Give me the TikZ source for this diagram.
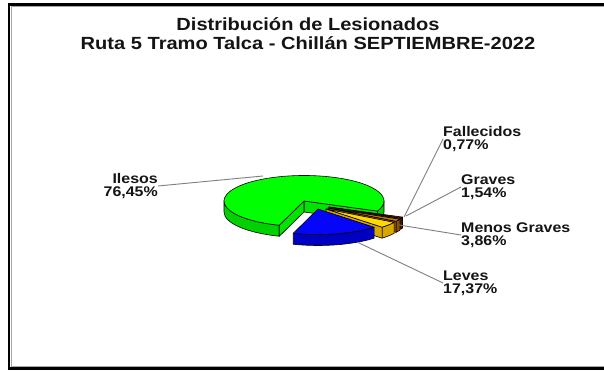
\documentclass[tikz,border=0pt]{standalone}
\usepackage{fontspec}
\newfontfamily\lfont{Liberation Sans}[FakeStretch=1.14]
\usetikzlibrary{calc}
\definecolor{gtop}{HTML}{00FF00}
\definecolor{gside}{HTML}{00D200}
\definecolor{gwall}{HTML}{00E400}
\definecolor{btop}{HTML}{0505F8}
\definecolor{bside}{HTML}{0000C4}
\definecolor{ytop}{HTML}{FFD800}
\definecolor{yside}{HTML}{D8A800}
\definecolor{otop}{HTML}{C07800}
\definecolor{oside}{HTML}{8C5200}
\definecolor{rtop}{HTML}{7A2E00}
\definecolor{rside}{HTML}{5A2000}
\definecolor{leadc}{HTML}{7F7F7F}
\newcommand{\slicetop}[4]{%
  \path[outl, fill=#4] (#1) -- ++(#2:80 and 25.5) arc[start angle=#2, end angle=#3, x radius=80, y radius=25.5] -- cycle;}
\newcommand{\slicerim}[4]{%
  \path[outl, fill=#4] (#1) ++(#2:80 and 25.5) arc[start angle=#2, end angle=#3, x radius=80, y radius=25.5] -- ++(0,-11) arc[start angle=#3, end angle=#2, x radius=80, y radius=25.5] -- cycle;}
\newcommand{\slicewall}[3]{%
  \path[outl, fill=#3] (#1) ++(0,-11) -- (#1) -- ++(#2:80 and 25.5) -- ++(0,-11) -- cycle;}
\begin{document}
\begin{tikzpicture}[x=1pt,y=1pt,
  lbl/.style={font=\lfont\bfseries\fontsize{14}{13}\selectfont, inner sep=0pt, text=black!92},
  ttl/.style={font=\lfont\bfseries\fontsize{17.6}{19}\selectfont, inner sep=0pt, text=black!92},
  leader/.style={draw=leadc, line width=0.9pt},
  outl/.style={draw=black, line width=0.6pt, line join=round}]
\useasboundingbox (0,0) rectangle (604,371);
\fill[white] (0,0) rectangle (604,371);
% frame
\draw[black, line width=2.5pt] (604,366.5) -- (9.2,366.5) -- (9.2,2.5) -- (604,2.5);
\draw[gray!70, line width=0.8pt] (604,364.4) -- (11.6,364.4) -- (11.6,4.4) -- (604,4.4);
% title
\node[ttl, anchor=base] (t1) at (308,340) {Distribución de Lesionados};
\node[ttl, anchor=base] (t2) at (308,321) {Ruta 5 Tramo Talca - Chillán SEPTIEMBRE-2022};
% pie centres
\coordinate (G) at (304,170);
\coordinate (R) at (329,164);
\coordinate (O) at (328,163);
\coordinate (Y) at (326,162);
\coordinate (B) at (318,162);
% green
\slicerim{G}{180}{252}{gside}
\slicerim{G}{-23.3}{0}{gside}
\slicewall{G}{-23.3}{gwall}
\slicewall{G}{252}{gwall}
\slicetop{G}{-23.3}{252}{gtop}
% red
\slicerim{R}{-26.1}{-23.3}{rside}
\slicewall{R}{-26.1}{rside}
\slicetop{R}{-26.1}{-23.3}{rtop}
% orange
\slicerim{O}{-31.6}{-26.1}{oside}
\slicewall{O}{-31.6}{oside}
\slicetop{O}{-31.6}{-26.1}{otop}
% yellow
\slicerim{Y}{-45.5}{-31.6}{yside}
\slicewall{Y}{-45.5}{yside}
\slicetop{Y}{-45.5}{-31.6}{ytop}
% blue
\slicerim{B}{252}{314.5}{bside}
\slicetop{B}{252}{314.5}{btop}
% labels
\node[lbl, anchor=east, align=right] (lIl) at (158,185) {Ilesos\\76,45\%};
\node[lbl, anchor=west, align=left] (lFa) at (443,232) {Fallecidos\\0,77\%};
\node[lbl, anchor=west, align=left] (lGr) at (461,184) {Graves\\1,54\%};
\node[lbl, anchor=west, align=left] (lMG) at (461,136) {Menos Graves\\3,86\%};
\node[lbl, anchor=west, align=left] (lLe) at (443,88) {Leves\\17,37\%};
% leader ends
\coordinate (pIl) at (263,195);
\coordinate (pFa) at (404,154);
\coordinate (pGr) at (406,155);
\coordinate (pMG) at (399,146);
\coordinate (pLe) at (357,129);
\draw[leader] (lIl.east) -- (pIl);
\draw[leader] (lFa.west) -- (pFa);
\draw[leader] (lGr.west) -- (pGr);
\draw[leader] (lMG.west) -- (pMG);
\draw[leader] (lLe.west) -- (pLe);
\end{tikzpicture}
\end{document}
